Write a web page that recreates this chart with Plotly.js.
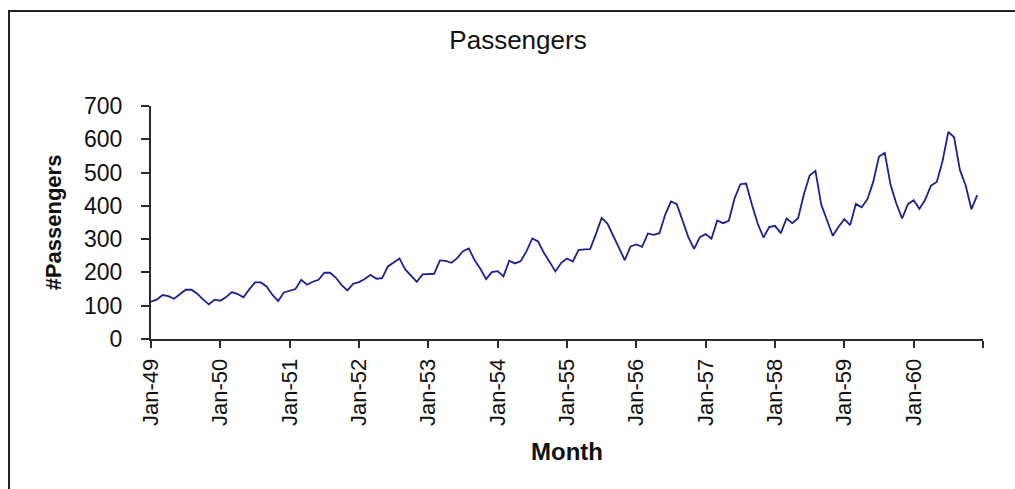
<!DOCTYPE html>
<html>
<head>
<meta charset="utf-8">
<script src="https://cdn.plot.ly/plotly-3.0.1.min.js"></script>
<style>
  html, body { margin: 0; padding: 0; background: #ffffff; }
  #chart { width: 1015px; height: 489px; }
</style>
</head>
<body>
<div id="chart"></div>
<script>
// Monthly airline passengers (thousands), Jan 1949 - Dec 1960
const years = ["49", "50", "51", "52", "53", "54", "55", "56", "57", "58", "59", "60"];
const monthNames = ["Jan", "Feb", "Mar", "Apr", "May", "Jun", "Jul", "Aug", "Sep", "Oct", "Nov", "Dec"];
const p1949 = [112, 118, 132, 129, 121, 135, 148, 148, 136, 119, 104, 118];
const p1950 = [115, 126, 141, 135, 125, 149, 170, 170, 158, 133, 114, 140];
const p1951 = [145, 150, 178, 163, 172, 178, 199, 199, 184, 162, 146, 166];
const p1952 = [171, 180, 193, 181, 183, 218, 230, 242, 209, 191, 172, 194];
const p1953 = [196, 196, 236, 235, 229, 243, 264, 272, 237, 211, 180, 201];
const p1954 = [204, 188, 235, 227, 234, 264, 302, 293, 259, 229, 203, 229];
const p1955 = [242, 233, 267, 269, 270, 315, 364, 347, 312, 274, 237, 278];
const p1956 = [284, 277, 317, 313, 318, 374, 413, 405, 355, 306, 271, 306];
const p1957 = [315, 301, 356, 348, 355, 422, 465, 467, 404, 347, 305, 336];
const p1958 = [340, 318, 362, 348, 363, 435, 491, 505, 404, 359, 310, 337];
const p1959 = [360, 342, 406, 396, 420, 472, 548, 559, 463, 407, 362, 405];
const p1960 = [417, 391, 419, 461, 472, 535, 622, 606, 508, 461, 390, 432];
const yTickVals = [0, 100, 200, 300, 400, 500, 600, 700];

const passengers = [].concat(p1949, p1950, p1951, p1952, p1953, p1954,
                             p1955, p1956, p1957, p1958, p1959, p1960);
const monthLabels = [];
years.forEach(y => monthNames.forEach(m => monthLabels.push(m + "-" + y)));
const xIdx = passengers.map((_, i) => i);

// ticks every January, plus closing tick at the end of the axis
const xTickVals = [];
const xTickText = [];
for (let i = 0; i < monthLabels.length; i += 12) { xTickVals.push(i); xTickText.push(monthLabels[i]); }
xTickVals.push(monthLabels.length); xTickText.push("");

const FONT = "Liberation Sans, Arial, sans-serif";
const AX = "#2b2b2b";

const trace = {
  x: xIdx,
  y: passengers,
  text: monthLabels,
  type: "scatter",
  mode: "lines",
  line: { color: "#1f1f90", width: 1.8 },
  hovertemplate: "%{text}: %{y}<extra></extra>"
};

const layout = {
  width: 1015,
  height: 489,
  margin: { l: 151, r: 32, t: 106, b: 150, pad: 0 },
  paper_bgcolor: "#ffffff",
  plot_bgcolor: "#ffffff",
  showlegend: false,
  font: { family: FONT, color: "#111111", size: 22 },
  title: {
    text: "Passengers",
    font: { family: FONT, size: 26, color: "#111111" },
    x: 518 / 1015, xref: "container", xanchor: "center",
    y: 1 - 40 / 489, yref: "container", yanchor: "middle"
  },
  xaxis: {
    range: [0, 144],
    tickmode: "array",
    tickvals: xTickVals,
    ticktext: xTickText,
    tickangle: -90,
    ticks: "outside",
    ticklen: 7,
    tickwidth: 2,
    tickcolor: AX,
    showline: true,
    linecolor: AX,
    linewidth: 2,
    showgrid: false,
    zeroline: false,
    ticklabelstandoff: 2,
    tickfont: { family: FONT, size: 22, color: "#111111" },
    title: { text: "<b>Month</b>", font: { family: FONT, size: 24, color: "#111111" }, standoff: 18 },
    automargin: false
  },
  yaxis: {
    range: [0, 700],
    tickmode: "array",
    tickvals: yTickVals,
    ticks: "outside",
    ticklen: 8,
    tickwidth: 2,
    tickcolor: AX,
    showline: true,
    linecolor: AX,
    linewidth: 2,
    showgrid: false,
    zeroline: false,
    ticklabelstandoff: 14,
    tickfont: { family: FONT, size: 23, color: "#111111" },
    title: { text: "<b>#Passengers</b>", font: { family: FONT, size: 22, color: "#111111" }, standoff: 16 },
    automargin: false
  },
  shapes: [{
    type: "rect",
    xref: "paper", yref: "paper",
    x0: (9 - 151) / 832, x1: 1.2,
    y0: -1, y1: (339 - 11) / 233,
    line: { color: "#222222", width: 2 },
    fillcolor: "rgba(0,0,0,0)",
    layer: "below"
  }]
};

Plotly.newPlot("chart", [trace], layout, { displayModeBar: false, staticPlot: true });
</script>
</body>
</html>
